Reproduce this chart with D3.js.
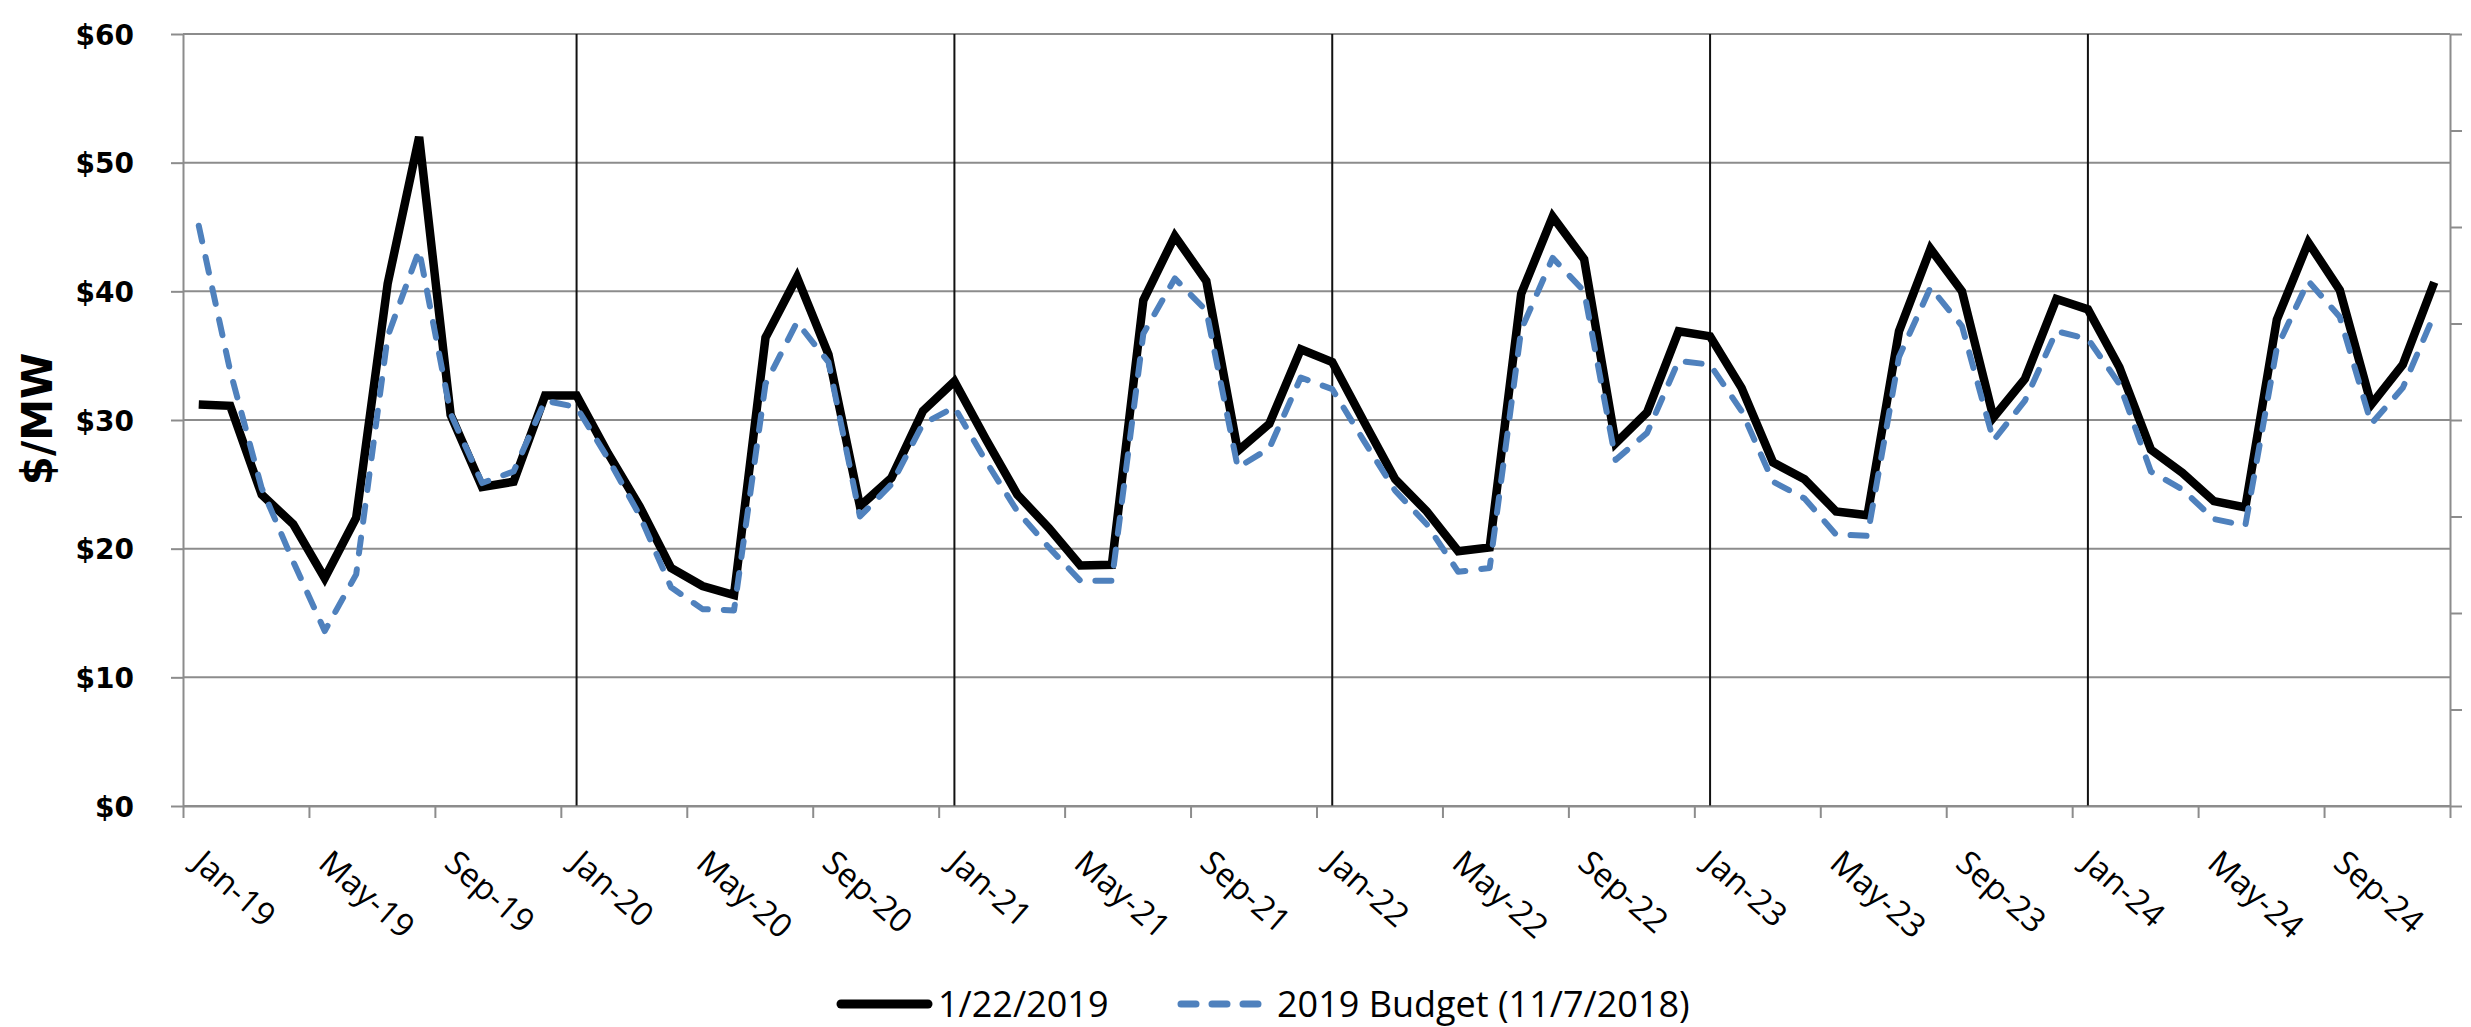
<!DOCTYPE html>
<html><head><meta charset="utf-8">
<script src="https://cdn.jsdelivr.net/npm/d3@7"></script>
<style>body{margin:0;background:#fff}svg{display:block}</style>
</head><body>
<svg id="c" width="2471" height="1027"></svg>
<script>
const months = [
"Jan-19","Feb-19","Mar-19","Apr-19","May-19","Jun-19","Jul-19","Aug-19","Sep-19","Oct-19","Nov-19","Dec-19",
"Jan-20","Feb-20","Mar-20","Apr-20","May-20","Jun-20","Jul-20","Aug-20","Sep-20","Oct-20","Nov-20","Dec-20",
"Jan-21","Feb-21","Mar-21","Apr-21","May-21","Jun-21","Jul-21","Aug-21","Sep-21","Oct-21","Nov-21","Dec-21",
"Jan-22","Feb-22","Mar-22","Apr-22","May-22","Jun-22","Jul-22","Aug-22","Sep-22","Oct-22","Nov-22","Dec-22",
"Jan-23","Feb-23","Mar-23","Apr-23","May-23","Jun-23","Jul-23","Aug-23","Sep-23","Oct-23","Nov-23","Dec-23",
"Jan-24","Feb-24","Mar-24","Apr-24","May-24","Jun-24","Jul-24","Aug-24","Sep-24","Oct-24","Nov-24","Dec-24"];

const forward = [
31.2,31.1,24.2,21.9,17.7,22.4,40.6,52.0,30.4,24.8,25.2,31.9,
31.9,27.4,23.3,18.5,17.1,16.4,36.4,41.1,35.1,23.3,25.5,30.7,
33.0,28.5,24.2,21.6,18.7,18.75,39.3,44.3,40.8,27.6,29.7,35.5,
34.5,29.9,25.4,22.9,19.8,20.1,39.8,45.8,42.5,28.2,30.6,36.9,
36.5,32.5,26.7,25.4,22.9,22.6,36.9,43.3,40.0,30.2,33.2,39.4,
38.6,34.1,27.7,25.9,23.7,23.2,37.8,43.8,40.1,31.2,34.3,40.7];

const budget = [
45.1,33.8,24.7,19.0,13.6,18.0,36.5,43.2,30.5,25.1,26.0,31.5,
31.0,27.0,22.6,17.0,15.3,15.2,32.8,37.6,34.5,22.5,25.0,29.7,
31.0,26.8,22.9,20.1,17.5,17.5,36.7,41.0,38.5,26.3,27.8,33.3,
32.4,28.4,24.5,21.9,18.2,18.5,37.0,42.6,40.0,26.9,29.0,34.6,
34.3,30.7,25.2,23.9,21.1,21.0,34.9,40.3,37.3,28.4,31.5,36.9,
36.3,32.8,26.0,24.6,22.3,21.8,35.6,40.8,38.0,29.7,32.5,38.2];

const yTicks = [0,10,20,30,40,50,60];
const xTickLabels = ["Jan-19","May-19","Sep-19","Jan-20","May-20","Sep-20","Jan-21","May-21","Sep-21",
"Jan-22","May-22","Sep-22","Jan-23","May-23","Sep-23","Jan-24","May-24","Sep-24"];
const yearLines = ["Jan-20","Jan-21","Jan-22","Jan-23","Jan-24"];
const seriesNames = ["1/22/2019","2019 Budget (11/7/2018)"];
const yTitle = "$/MW";

const svg = d3.select("#c");
const L = 183, R = 2450, T = 34, B = 806;
const GRID = "#8c8c8c", BLUE = "#4f81bd";

const x = d3.scalePoint().domain(months).range([L, R]).padding(0.5);
const xb = d3.scaleLinear().domain([0, months.length]).range([L, R]);
const y = d3.scaleLinear().domain([0, 60]).range([B, T]);
const y2 = d3.scaleLinear().domain([0, 8]).range([B, T]);

// horizontal gridlines
svg.append("g").selectAll("line").data(yTicks).join("line")
  .attr("x1", L).attr("x2", R).attr("y1", d => y(d)).attr("y2", d => y(d))
  .attr("stroke", GRID).attr("stroke-width", 2);

// year separator lines
svg.append("g").selectAll("line").data(yearLines).join("line")
  .attr("x1", d => x(d)).attr("x2", d => x(d)).attr("y1", T).attr("y2", B)
  .attr("stroke", "#111").attr("stroke-width", 2);

// left axis
const ya = svg.append("g").attr("transform", `translate(${L},0)`)
  .call(d3.axisLeft(y).tickValues(yTicks).tickFormat(d => "$" + d).tickSize(12).tickSizeOuter(0).tickPadding(37));
ya.select(".domain").attr("stroke", GRID).attr("stroke-width", 2);
ya.selectAll(".tick line").attr("stroke", GRID).attr("stroke-width", 2);
ya.selectAll(".tick text").attr("font-family", "DejaVu Sans").attr("font-weight", "bold")
  .attr("font-size", 28).attr("fill", "#000").attr("dy", "0.36em");

// right axis (no labels)
const yr = svg.append("g").attr("transform", `translate(${R},0)`)
  .call(d3.axisRight(y2).ticks(8).tickFormat("").tickSize(12).tickSizeOuter(0));
yr.select(".domain").attr("stroke", GRID).attr("stroke-width", 2);
yr.selectAll(".tick line").attr("stroke", GRID).attr("stroke-width", 2);

// bottom axis
const xa = svg.append("g").attr("transform", `translate(0,${B})`)
  .call(d3.axisBottom(xb).tickValues(d3.range(0, months.length + 1, 4)).tickFormat("").tickSize(12).tickSizeOuter(0));
xa.select(".domain").attr("stroke", GRID).attr("stroke-width", 2);
xa.selectAll(".tick line").attr("stroke", GRID).attr("stroke-width", 2);

// x labels
svg.append("g").selectAll("text").data(xTickLabels).join("text")
  .attr("transform", d => `translate(${x(d) - 8},866) rotate(41)`)
  .attr("font-family", "Open Sans").attr("font-size", 33).attr("fill", "#000")
  .text(d => d);

// y title
svg.append("text").attr("transform", "translate(37,419) rotate(-90)")
  .attr("text-anchor", "middle").attr("dominant-baseline", "central")
  .attr("font-family", "DejaVu Sans").attr("font-weight", "bold").attr("font-size", 42)
  .attr("fill", "#000").text(yTitle);

// series
const line = d3.line().x((d, i) => x(months[i])).y(d => y(d));
svg.append("path").datum(forward).attr("d", line).attr("fill", "none")
  .attr("stroke", "#000").attr("stroke-width", 8.5).attr("stroke-linejoin", "miter");
svg.append("path").datum(budget).attr("d", line).attr("fill", "none")
  .attr("stroke", BLUE).attr("stroke-width", 6).attr("stroke-dasharray", "16,16")
  .attr("stroke-linecap", "round").attr("stroke-linejoin", "round");

// legend
const lg = svg.append("g");
lg.append("line").attr("x1", 841).attr("x2", 928).attr("y1", 1004).attr("y2", 1004)
  .attr("stroke", "#000").attr("stroke-width", 9).attr("stroke-linecap", "round");
lg.append("text").attr("x", 938).attr("y", 1017).attr("font-family", "Open Sans").attr("font-size", 36)
  .attr("fill", "#000").text(seriesNames[0]);
lg.append("line").attr("x1", 1181).attr("x2", 1258).attr("y1", 1004).attr("y2", 1004)
  .attr("stroke", BLUE).attr("stroke-width", 7).attr("stroke-dasharray", "15,16").attr("stroke-linecap", "round");
lg.append("text").attr("x", 1277).attr("y", 1017).attr("font-family", "Open Sans").attr("font-size", 36)
  .attr("fill", "#000").text(seriesNames[1]);
</script>
</body></html>
